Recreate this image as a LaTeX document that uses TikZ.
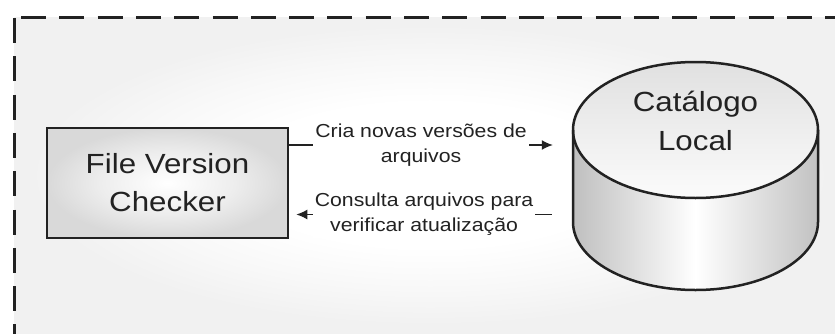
\documentclass[tikz,border=0pt]{standalone}
\usepackage{fontspec}
\setmainfont{Liberation Sans}[FakeStretch=1.13]
\usetikzlibrary{arrows.meta,calc}
\definecolor{bgc}{HTML}{F1F1F1}
\definecolor{glowmid}{HTML}{F8F8F8}
\definecolor{ink}{HTML}{222222}
\definecolor{boxedge}{HTML}{D9D9D9}
\definecolor{boxmid}{HTML}{EDEDED}
\pgfdeclareradialshading{glow}{\pgfpoint{0bp}{0bp}}{color(0bp)=(white); color(12bp)=(white); color(19bp)=(glowmid); color(25bp)=(bgc); color(50bp)=(bgc)}
\pgfdeclareradialshading{boxglow}{\pgfpoint{0bp}{0bp}}{color(0bp)=(white); color(14bp)=(boxmid); color(25bp)=(boxedge); color(50bp)=(boxedge)}
\tikzset{
  frame/.style={line width=3pt, draw=ink, dash pattern=on 25pt off 13.3pt},
  boxnode/.style={draw=ink, line width=2.6pt, shading=boxglow, minimum width=241pt, minimum height=110pt, inner sep=0pt, align=center, text=ink, font=\fontsize{27.7}{38}\selectfont},
  cyltext/.style={align=center, text=ink, font=\fontsize{27.7}{39}\selectfont},
  lab/.style={fill=white, inner sep=2pt, align=center, text=ink, font=\fontsize{18.8}{25}\selectfont},
  arr/.style={draw=ink, line width=1.4pt, -{Latex[length=11pt,width=10pt]}},
  cylline/.style={draw=ink, line width=2.5pt}
}
\begin{document}
\begin{tikzpicture}[x=1pt,y=1pt]
\useasboundingbox (0,0) rectangle (835,333);
\clip (0,0) rectangle (835,333);
% background
\fill[white] (0,0) rectangle (835,333);
\fill[bgc] (14,-10) rectangle (845,316);
\begin{scope}
  \clip (14,-10) rectangle (845,316);
  \shade[shading=glow] (430,158) ellipse [x radius=400, y radius=150];
\end{scope}
% dashed frame
\draw[frame] (14,315) -- (14,-10);
\draw[frame] (21,316) -- (850,316);
% file version checker
\node[boxnode] (checker) at (167.5,150) {File Version\\Checker};
% cylinder
\shade[left color=gray!50, right color=gray!48, middle color=white]
  (573,203) -- (573,111) arc[start angle=180, end angle=360, x radius=122.5, y radius=68]
  -- (818,203) arc[start angle=0, end angle=-180, x radius=122.5, y radius=68] -- cycle;
\shade[top color=gray!24, bottom color=white!97!gray] (695.5,203) ellipse [x radius=122.5, y radius=68];
\draw[cylline] (573,203) -- (573,111) arc[start angle=180, end angle=360, x radius=122.5, y radius=68] -- (818,203);
\draw[cylline] (695.5,203) ellipse [x radius=122.5, y radius=68];
\node[minimum width=245pt, minimum height=228pt, inner sep=0pt] (cyl) at (695.5,157) {};
\node[cyltext] (cattext) at (695.5,212) {Catálogo\\Local};
% connectors
\coordinate (ya) at (0,188);
\coordinate (yb) at (0,118.5);
\draw[arr] (checker.east |- ya) -- ($(cyl.west |- ya)+(-20,0)$)
  node[midway, lab] (lab1) {Cria novas versões de\\arquivos};
\draw[arr] ($(cyl.west |- yb)+(-21,0)$) -- ($(checker.east |- yb)+(7,0)$)
  node[midway, lab] (lab2) {Consulta arquivos para\\verificar atualização};
\end{tikzpicture}
\end{document}
